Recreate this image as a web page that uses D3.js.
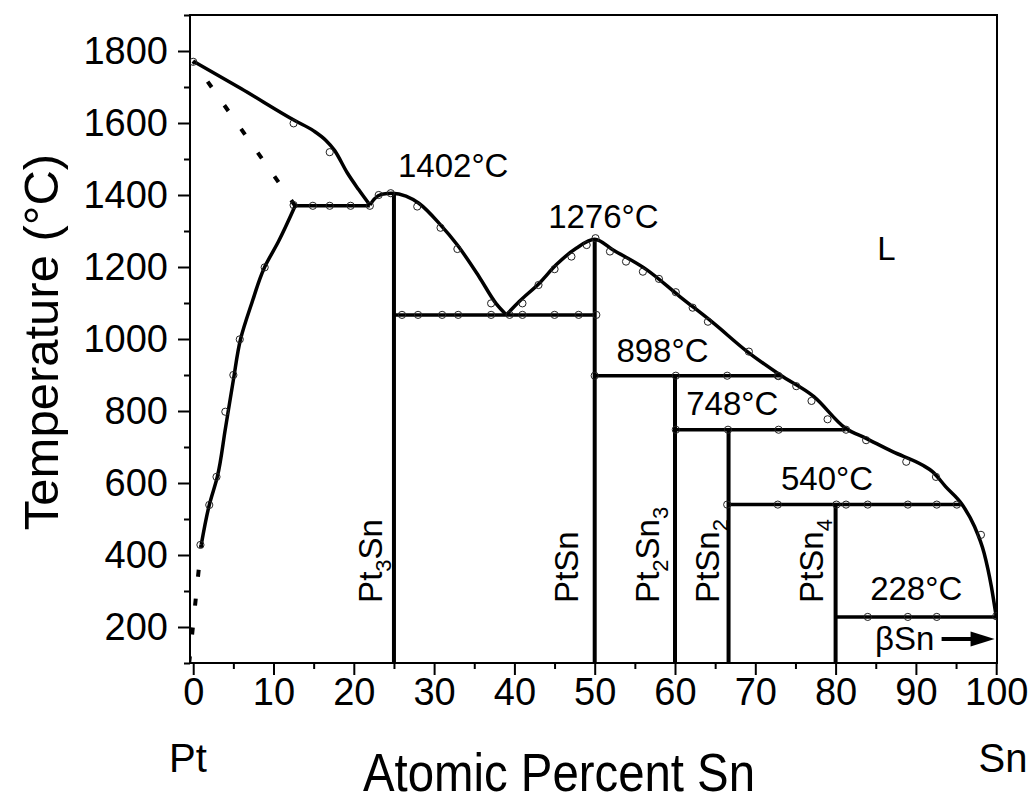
<!DOCTYPE html>
<html>
<head>
<meta charset="utf-8">
<script src="https://cdn.jsdelivr.net/npm/d3@7"></script>
<style>
  body { margin: 0; background: #fff; }
  svg text { font-family: "Liberation Sans", Arial, sans-serif; fill: #000; }
</style>
</head>
<body>
<div id="chart"></div>
<script>
// ── Data (atomic % Sn, temperature °C) ──────────────────────────────────
const liquidusPt    = [[0,1772],[6,1695],[12.7,1606],[15,1578],[16.5,1552],[17.6,1524],[19.2,1461],[20.6,1415],[22,1372]];
const liquidusPt3Sn = [[22,1372],[22.6,1390],[23.5,1402],[24.8,1405],[26.5,1397],[28.1,1377],[30.8,1317],[32.9,1261],[35.6,1173],[37.7,1099],[39,1067]];
const liquidusSn    = [[39,1067],[40.6,1104],[43.1,1155],[45.2,1206],[47.7,1252],[50,1277],[52.3,1247],[56.5,1192],[60.6,1118],[64.8,1044],[69,965],[73.1,900],[77.3,840],[81.25,752],[83.8,724],[87.1,687],[90.8,650],[92.1,631],[93.7,590],[95.8,539],[97.3,479],[98.5,405],[99.4,312],[100,229]];
const solidusPt     = [[1,428],[2,539],[3,617],[4,750],[5,886],[5.9,1000],[7.3,1100],[8.9,1200],[10.6,1270],[12.7,1370]];
const dashedPt      = [[0,1772],[12.7,1370]];
const dottedPt      = [[1,428],[-0.5,100]];

const invariantT    = [1370, 1067, 898, 748, 540, 228];
const invariantFrom = [12.5, 25, 50, 60, 66.67, 80];
const invariantTo   = [22, 50, 73.1, 81.25, 95.8, 100];

const compoundX     = [25, 50, 60, 66.67, 80];
const compoundTop   = [1405, 1277, 898, 748, 540];
const compoundNames = [["Pt","3","Sn"],["PtSn"],["Pt","2","Sn","3"],["PtSn","2"],["PtSn","4"]];

const points = [
  [0,1770],[12.5,1599],[17,1519],
  [12.5,1372],[14.9,1370],[17,1370],[19.6,1370],[22,1370],
  [8.9,1199],[5.8,999],[5,900],[4,798],[2.9,617],[2,539],[0.9,428],
  [23.1,1400],[24.6,1405],[27.9,1368],[30.8,1309],[32.9,1250],[37.1,1099],
  [41,1099],[43,1150],[45,1194],[47.1,1229],[49,1261],[50.1,1280],
  [26,1067],[28,1067],[31,1067],[33,1067],[37.1,1067],[39.4,1067],[41,1067],[45,1067],[48,1067],[50.2,1067],
  [51.9,1243],[53.9,1215],[56,1187],[58,1167],[60.1,1130],[62.2,1087],[64.1,1048],[69.2,965],[72.9,897],[75.1,869],[77,828],[79,777],
  [50,898],[60.1,898],[66.5,898],[72.8,898],
  [60.1,748],[66.6,748],[72.9,748],[81.3,748],
  [83.8,719],[88.8,659],[92.5,617],[98.1,456],
  [66.5,540],[72.8,540],[80.1,540],[81.3,540],[84,540],[89,540],[92.6,540],[95.1,540],
  [84,228],[89,228],[92.6,228],[100,230]
];

const tempLabels  = ["1402\u00B0C","1276\u00B0C","898\u00B0C","748\u00B0C","540\u00B0C","228\u00B0C","L","\u03B2Sn"];
const tempLabelAt = [[25.5,1450],[44.2,1308],[52.7,936],[61.4,789],[73.2,581],[84.3,275],[85.2,1219],[84.9,136]];
const arrowFrom = [93.2, 167];
const arrowTo   = [99.8, 167];

const xMajor = d3.range(0, 101, 10);
const xMinor = d3.range(5, 100, 10);
const yMajor = d3.range(200, 1801, 200);
const yMinor = d3.range(100, 1901, 200);

// ── Layout ──────────────────────────────────────────────────────────────
const W = 1035, H = 803;
const margin = { top: 15, right: 38, bottom: 140, left: 190 };
const chartW = W - margin.left - margin.right;
const chartH = H - margin.top - margin.bottom;

const x = d3.scaleLinear().domain([-0.4, 100.1]).range([0, chartW]);
const y = d3.scaleLinear().domain([100, 1900]).range([chartH, 0]);

const svg = d3.select("#chart").append("svg").attr("width", W).attr("height", H);
const g = svg.append("g").attr("transform", `translate(${margin.left},${margin.top})`);

svg.append("defs").append("clipPath").attr("id", "plot")
  .append("rect").attr("width", chartW).attr("height", chartH);

// axes
function styleAxis(sel) {
  sel.select(".domain").remove();
  sel.selectAll(".tick line").attr("stroke", "#000").attr("stroke-width", 2);
  sel.selectAll(".tick text").style("font-size", "38px").attr("fill", "#000");
}
g.append("g").attr("transform", `translate(0,${chartH})`)
  .call(d3.axisBottom(x).tickValues(xMajor).tickSize(12).tickPadding(3).tickFormat(d3.format("d")))
  .call(styleAxis);
g.append("g").attr("transform", `translate(0,${chartH})`)
  .call(d3.axisBottom(x).tickValues(xMinor).tickSize(6).tickFormat(""))
  .call(styleAxis);
g.append("g")
  .call(d3.axisLeft(y).tickValues(yMajor).tickSize(12).tickPadding(10).tickFormat(d3.format("d")))
  .call(styleAxis);
g.append("g")
  .call(d3.axisLeft(y).tickValues(yMinor).tickSize(6).tickFormat(""))
  .call(styleAxis);

g.append("rect").attr("width", chartW).attr("height", chartH)
  .attr("fill", "none").attr("stroke", "#000").attr("stroke-width", 2);

const plot = g.append("g").attr("clip-path", "url(#plot)");

// phase boundaries
const lineX = d3.line().x(d => x(d[0])).y(d => y(d[1])).curve(d3.curveMonotoneX);
const lineY = d3.line().x(d => x(d[0])).y(d => y(d[1])).curve(d3.curveMonotoneY);
const lineL = d3.line().x(d => x(d[0])).y(d => y(d[1]));

[liquidusPt, liquidusPt3Sn, liquidusSn].forEach(data => {
  plot.append("path").attr("d", lineX(data))
    .attr("fill", "none").attr("stroke", "#000").attr("stroke-width", 3.5);
});
plot.append("path").attr("d", lineY(solidusPt))
  .attr("fill", "none").attr("stroke", "#000").attr("stroke-width", 3.5);

// dashed extensions: pattern ends on a full dash at the far end
const DASH = 7, GAP = 22;
[dashedPt, dottedPt].forEach((data, i) => {
  const p = plot.append("path").attr("d", lineL(data))
    .attr("fill", "none").attr("stroke", "#000").attr("stroke-width", 4)
    .attr("stroke-dasharray", `${DASH},${GAP}`);
  const L = p.node().getTotalLength();
  const period = DASH + GAP;
  const off = i === 0 ? (((DASH - L) % period) + period) % period : 4;
  p.attr("stroke-dashoffset", off);
});

// invariant horizontals
invariantT.forEach((t, i) => {
  plot.append("line")
    .attr("x1", x(invariantFrom[i])).attr("x2", x(invariantTo[i]))
    .attr("y1", y(t)).attr("y2", y(t))
    .attr("stroke", "#000").attr("stroke-width", 3.5);
});

// compounds
compoundX.forEach((cx, i) => {
  plot.append("line")
    .attr("x1", x(cx)).attr("x2", x(cx))
    .attr("y1", y(compoundTop[i])).attr("y2", chartH)
    .attr("stroke", "#000").attr("stroke-width", 4);
});

// data circles
plot.append("g").selectAll("circle").data(points).join("circle")
  .attr("cx", d => x(d[0])).attr("cy", d => y(d[1])).attr("r", 3.6)
  .attr("fill", "none").attr("stroke", "#222").attr("stroke-width", 1);

// compound labels (rotated)
const labelShift = [-12, -17, -16, -10, -13];
compoundNames.forEach((parts, i) => {
  const t = g.append("text")
    .attr("transform", `translate(${x(compoundX[i]) + labelShift[i]},${y(267)}) rotate(-90)`)
    .style("font-size", "33px");
  parts.forEach((p, j) => {
    const sub = j % 2 === 1;
    t.append("tspan").text(p)
      .style("font-size", sub ? "22px" : "33px")
      .attr("dy", sub ? 9 : (j > 0 ? -9 : 0));
  });
});

// temperature labels
tempLabels.forEach((s, i) => {
  g.append("text")
    .attr("x", x(tempLabelAt[i][0])).attr("y", y(tempLabelAt[i][1]))
    .style("font-size", "33px")
    .text(s);
});

// βSn arrow
const ax0 = x(arrowFrom[0]), ax1 = x(arrowTo[0]), ay = y(arrowFrom[1]);
g.append("line").attr("x1", ax0).attr("x2", ax1 - 16).attr("y1", ay).attr("y2", ay)
  .attr("stroke", "#000").attr("stroke-width", 4);
g.append("path")
  .attr("d", `M${ax1},${ay} L${ax1 - 24},${ay - 7.5} L${ax1 - 24},${ay + 7.5} Z`)
  .attr("fill", "#000");

// axis titles
svg.append("text")
  .attr("transform", `translate(58,${margin.top + chartH / 2 + 3}) rotate(-90)`)
  .attr("text-anchor", "middle")
  .style("font-size", "49px")
  .text("Temperature (\u00B0C)");
svg.append("text")
  .attr("x", 559).attr("y", 791)
  .attr("text-anchor", "middle")
  .attr("textLength", 392).attr("lengthAdjust", "spacingAndGlyphs")
  .style("font-size", "54px")
  .text("Atomic Percent Sn");
svg.append("text")
  .attr("x", 188).attr("y", 772)
  .attr("text-anchor", "middle")
  .style("font-size", "40px")
  .text("Pt");
svg.append("text")
  .attr("x", 1003).attr("y", 772)
  .attr("text-anchor", "middle")
  .style("font-size", "40px")
  .text("Sn");
</script>
</body>
</html>
